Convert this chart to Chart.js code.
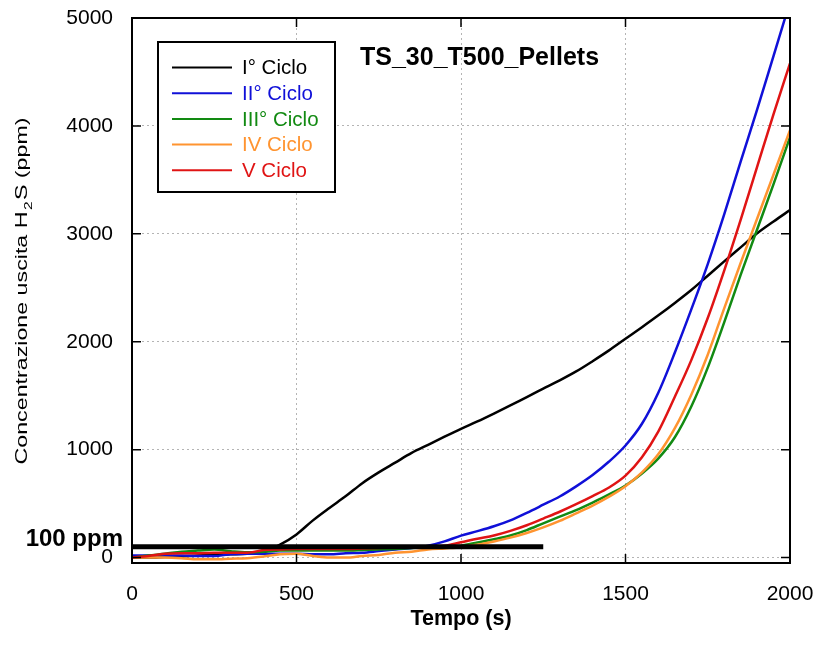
<!DOCTYPE html>
<html>
<head>
<meta charset="utf-8">
<script src="https://cdn.jsdelivr.net/npm/chart.js@4.4.0/dist/chart.umd.min.js"></script>
<style>
  html, body { margin: 0; padding: 0; background: #fff; }
</style>
</head>
<body>
<canvas id="chart" width="815" height="646"></canvas>
<script>
// TS_30_T500_Pellets — H2S outlet concentration over five cycles

const tempo = [0, 50, 100, 150, 200, 250, 300, 350, 400, 450, 500, 550, 600, 650, 700, 750, 800, 850, 900, 950,
  1000, 1050, 1100, 1150, 1200, 1250, 1300, 1350, 1400, 1450, 1500, 1550, 1600, 1650, 1700, 1750, 1800, 1850, 1900, 1950, 2000];

const ciclo1 = [0, 0, 5, 10, 20, 25, 30, 35, 50, 120, 215, 345, 460, 570, 690, 790, 880, 970, 1045, 1120,
  1193, 1262, 1335, 1410, 1488, 1565, 1642, 1725, 1820, 1920, 2028, 2135, 2245, 2360, 2480, 2612, 2745, 2875, 3005, 3115, 3220];
const ciclo2 = [20, 20, 20, 20, 15, 15, 30, 35, 35, 35, 35, 30, 30, 40, 45, 60, 75, 90, 110, 150,
  204, 245, 290, 345, 415, 490, 566, 660, 765, 890, 1039, 1240, 1530, 1900, 2300, 2720, 3180, 3670, 4150, 4650, 5150];
const ciclo3 = [0, 20, 35, 55, 65, 75, 60, 50, 55, 65, 65, 65, 65, 65, 70, 75, 80, 90, 95, 100,
  111, 140, 170, 205, 255, 318, 380, 440, 510, 585, 668, 780, 920, 1115, 1400, 1760, 2180, 2620, 3040, 3460, 3896];
const ciclo4 = [0, 0, 0, -5, -15, -15, -10, -5, 10, 30, 35, 15, 0, 0, 15, 25, 45, 55, 75, 85,
  96, 120, 150, 185, 228, 280, 340, 410, 482, 565, 662, 790, 960, 1200, 1510, 1880, 2310, 2730, 3140, 3550, 3960];
const ciclo5 = [0, 15, 35, 40, 40, 45, 45, 45, 70, 75, 80, 80, 80, 80, 85, 90, 95, 100, 100, 110,
  142, 175, 205, 248, 300, 362, 425, 495, 570, 650, 760, 930, 1170, 1490, 1830, 2220, 2660, 3130, 3620, 4110, 4580];

// threshold line: 100 ppm from 0 to 1250 s
const sogliaTempo = [0, 1250];
const sogliaValori = [100, 100];

const yTicks = [0, 1000, 2000, 3000, 4000, 5000];
const xTicks = [0, 500, 1000, 1500, 2000];

const etichette = ['I° Ciclo', 'II° Ciclo', 'III° Ciclo', 'IV Ciclo', 'V Ciclo'];
const colori = ['#000000', '#1010d8', '#128a12', '#ff9430', '#e01414'];

const FONT = "'Liberation Sans', Arial, sans-serif";

function toPoints(xs, ys) {
  return xs.map((x, i) => ({ x, y: ys[i] }));
}

function serie(i, values) {
  return {
    label: etichette[i],
    data: toPoints(tempo, values),
    borderColor: colori[i],
    backgroundColor: colori[i],
    borderWidth: 2.5,
    pointRadius: 0,
    cubicInterpolationMode: 'monotone',
    fill: false,
    order: 5 - i,
  };
}

// ─── Decorations: frame, inner ticks, legend box, labels ───────────

const decorPlugin = {
  id: 'decor',
  afterDraw(chart) {
    const { ctx, chartArea: a, scales } = chart;
    ctx.save();

    // frame
    ctx.strokeStyle = '#000';
    ctx.lineWidth = 2;
    ctx.strokeRect(a.left, a.top, a.right - a.left, a.bottom - a.top);

    // inward tick marks
    ctx.lineWidth = 1.5;
    scales.x.ticks.forEach((t) => {
      const px = scales.x.getPixelForValue(t.value);
      ctx.beginPath();
      ctx.moveTo(px, a.bottom); ctx.lineTo(px, a.bottom - 9);
      ctx.moveTo(px, a.top); ctx.lineTo(px, a.top + 9);
      ctx.stroke();
    });
    scales.y.ticks.forEach((t) => {
      const py = scales.y.getPixelForValue(t.value);
      ctx.beginPath();
      ctx.moveTo(a.left, py); ctx.lineTo(a.left + 9, py);
      ctx.moveTo(a.right, py); ctx.lineTo(a.right - 9, py);
      ctx.stroke();
    });

    // legend box
    ctx.fillStyle = '#fff';
    ctx.fillRect(158, 42, 177, 150);
    ctx.lineWidth = 2;
    ctx.strokeStyle = '#000';
    ctx.strokeRect(158, 42, 177, 150);
    ctx.font = '20.5px ' + FONT;
    ctx.textBaseline = 'middle';
    ctx.textAlign = 'left';
    etichette.forEach((lab, i) => {
      const y = 67.5 + i * 25.7;
      ctx.strokeStyle = colori[i];
      ctx.lineWidth = 2;
      ctx.beginPath();
      ctx.moveTo(172, y); ctx.lineTo(232, y);
      ctx.stroke();
      ctx.fillStyle = colori[i];
      ctx.fillText(lab, 242, y + 1);
    });

    // chart title inside plot
    ctx.fillStyle = '#000';
    ctx.font = 'bold 25px ' + FONT;
    ctx.fillText('TS_30_T500_Pellets', 360, 58);

    // threshold label
    ctx.font = 'bold 24px ' + FONT;
    ctx.textAlign = 'right';
    ctx.fillText('100 ppm', 123, 539);

    // y axis title (stretched along its baseline like the original)
    ctx.translate(27, 291);
    ctx.rotate(-Math.PI / 2);
    const big = '16.5px ' + FONT;
    const small = '11px ' + FONT;
    const p1 = 'Concentrazione uscita H';
    const p2 = '2';
    const p3 = 'S (ppm)';
    ctx.font = big;
    const w1 = ctx.measureText(p1).width;
    const w3 = ctx.measureText(p3).width;
    ctx.font = small;
    const w2 = ctx.measureText(p2).width + 2;
    const total = w1 + w2 + w3;
    ctx.scale(347 / total, 1);
    ctx.textAlign = 'left';
    ctx.textBaseline = 'alphabetic';
    const x0 = -total / 2;
    ctx.font = big;
    ctx.fillText(p1, x0, 0);
    ctx.font = small;
    ctx.fillText(p2, x0 + w1 + 1, 5);
    ctx.font = big;
    ctx.fillText(p3, x0 + w1 + w2, 0);

    ctx.restore();
  },
};

const gridStyle = { color: '#b4b4b4', lineWidth: 1, drawTicks: false };
const borderStyle = { display: false, dash: [2, 3] };
const tickFont = { family: FONT, size: 21 };

new Chart(document.getElementById('chart'), {
  type: 'line',
  data: {
    datasets: [
      {
        label: '100 ppm',
        data: toPoints(sogliaTempo, sogliaValori),
        borderColor: '#000',
        borderWidth: 5,
        pointRadius: 0,
        order: -1,
      },
      serie(0, ciclo1),
      serie(1, ciclo2),
      serie(2, ciclo3),
      serie(3, ciclo4),
      serie(4, ciclo5),
    ],
  },
  options: {
    responsive: false,
    animation: false,
    layout: { padding: { top: 18, right: 25, left: 0, bottom: 0 } },
    plugins: {
      legend: { display: false },
      tooltip: { enabled: false },
    },
    scales: {
      x: {
        type: 'linear',
        min: 0,
        max: 2000,
        grid: gridStyle,
        border: borderStyle,
        afterBuildTicks: (s) => { s.ticks = xTicks.map((v) => ({ value: v })); },
        ticks: { padding: 19, color: '#000', font: tickFont, callback: (v) => String(v) },
        title: { display: true, text: 'Tempo (s)', color: '#000', font: { family: FONT, size: 21.5, weight: 'bold' }, padding: { top: 0, bottom: 14 } },
        afterFit: (s) => { s.height = 83; s.paddingLeft = 0; s.paddingRight = 0; },
      },
      y: {
        type: 'linear',
        min: -50,
        max: 5000,
        grid: gridStyle,
        border: borderStyle,
        afterBuildTicks: (s) => { s.ticks = yTicks.map((v) => ({ value: v })); },
        ticks: { padding: 19, color: '#000', font: tickFont, callback: (v) => String(v) },
        afterFit: (s) => { s.width = 132; s.paddingTop = 0; s.paddingBottom = 0; },
      },
    },
  },
  plugins: [decorPlugin],
});
</script>
</body>
</html>
